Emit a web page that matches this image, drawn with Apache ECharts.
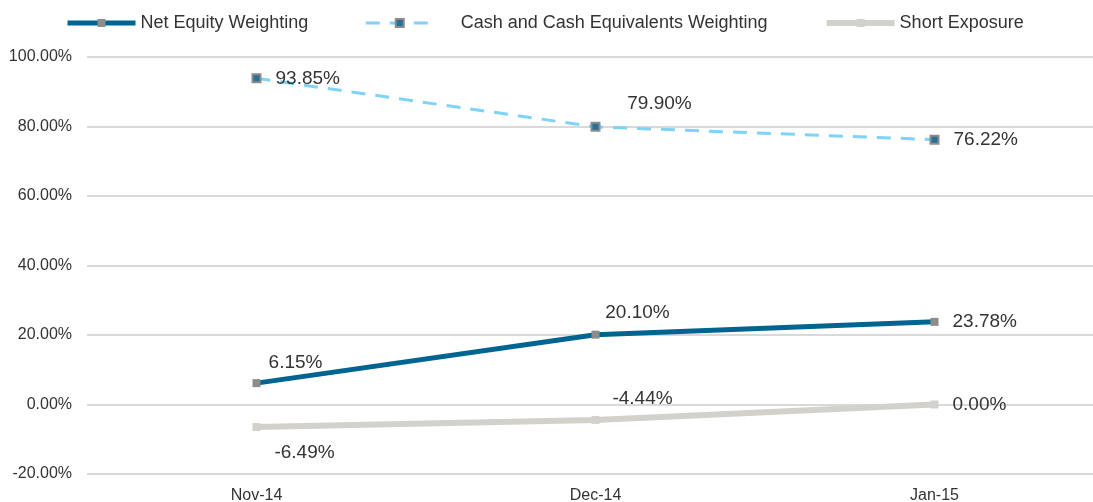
<!DOCTYPE html>
<html>
<head>
<meta charset="utf-8">
<script src="https://cdn.jsdelivr.net/npm/echarts@6/dist/echarts.min.js"></script>
<style>
  html, body { margin: 0; padding: 0; background: #fff; }
  #chart { width: 1093px; height: 502px; }
</style>
</head>
<body>
<div id="chart"></div>
<script>
const months = ['Nov-14', 'Dec-14', 'Jan-15'];
const netEquity = [6.15, 20.10, 23.78];
const cashWeighting = [93.85, 79.90, 76.22];
const shortExposure = [-6.49, -4.44, 0.00];
const yTicks = { min: -20, max: 100, step: 20 };

const FONT = '"Liberation Sans", Arial, sans-serif';
const pct = v => v.toFixed(2) + '%';

// label placement for each point (style, not data)
const netLabels = [
  { position: 'top', offset: [39, 0], distance: 7 },
  { position: 'top', offset: [42, 0], distance: 8 },
  { position: 'right', distance: 14 }
];
const cashLabels = [
  { position: 'right', distance: 14 },
  { position: 'top', offset: [64, 0], distance: 9 },
  { position: 'right', distance: 14 }
];
const shortLabels = [
  { position: 'bottom', offset: [48, 0], distance: 12 },
  { position: 'top', offset: [47, 0], distance: 8 },
  { position: 'right', distance: 14 }
];

function withLabels(values, labels) {
  return values.map((v, i) => ({ value: v, label: labels[i] }));
}

const labelStyle = {
  show: true,
  color: '#333',
  fontSize: 19,
  fontFamily: FONT,
  formatter: p => pct(p.value)
};

const option = {
  animation: false,
  textStyle: { fontFamily: FONT },
  legend: {
    left: 60,
    top: 9,
    itemWidth: 68,
    itemHeight: 10,
    itemGap: 56,
    lineStyle: { width: 'inherit' },
    textStyle: { fontSize: 18, color: '#333', fontFamily: FONT },
    data: [
      { name: 'Net Equity Weighting' },
      { name: 'Cash and Cash Equivalents Weighting', textStyle: { padding: [0, 0, 0, 22] } },
      { name: 'Short Exposure' }
    ]
  },
  grid: {
    left: 87,
    width: 1017,
    top: 57,
    bottom: 28,
    outerBoundsMode: 'none'
  },
  xAxis: {
    type: 'category',
    data: months,
    boundaryGap: true,
    axisLine: { show: false },
    axisTick: { show: false },
    axisLabel: { fontSize: 16, color: '#333', margin: 14, fontFamily: FONT }
  },
  yAxis: {
    type: 'value',
    min: yTicks.min,
    max: yTicks.max,
    interval: yTicks.step,
    axisLine: { show: false },
    axisTick: { show: false },
    axisLabel: {
      fontSize: 16,
      color: '#333',
      margin: 15,
      fontFamily: FONT,
      formatter: v => pct(v)
    },
    splitLine: { lineStyle: { color: '#d9d9d9', width: 2 } }
  },
  series: [
    {
      name: 'Net Equity Weighting',
      type: 'line',
      data: withLabels(netEquity, netLabels),
      symbol: 'rect',
      symbolSize: 8,
      itemStyle: { color: '#8c8c8c' },
      lineStyle: { color: '#006491', width: 5 },
      label: labelStyle,
      z: 3
    },
    {
      name: 'Cash and Cash Equivalents Weighting',
      type: 'line',
      data: withLabels(cashWeighting, cashLabels),
      symbol: 'rect',
      symbolSize: 8,
      itemStyle: { color: '#2a6f97', borderColor: '#8c8c8c', borderWidth: 2 },
      lineStyle: { color: '#7fd3f7', width: 3, type: [14, 10] },
      label: labelStyle,
      z: 3
    },
    {
      name: 'Short Exposure',
      type: 'line',
      data: withLabels(shortExposure, shortLabels),
      symbol: 'rect',
      symbolSize: 8,
      itemStyle: { color: '#d2d1cc' },
      lineStyle: { color: '#d2d1cc', width: 6 },
      label: labelStyle,
      z: 2
    }
  ]
};

const chart = echarts.init(document.getElementById('chart'));
chart.setOption(option);
</script>
</body>
</html>
